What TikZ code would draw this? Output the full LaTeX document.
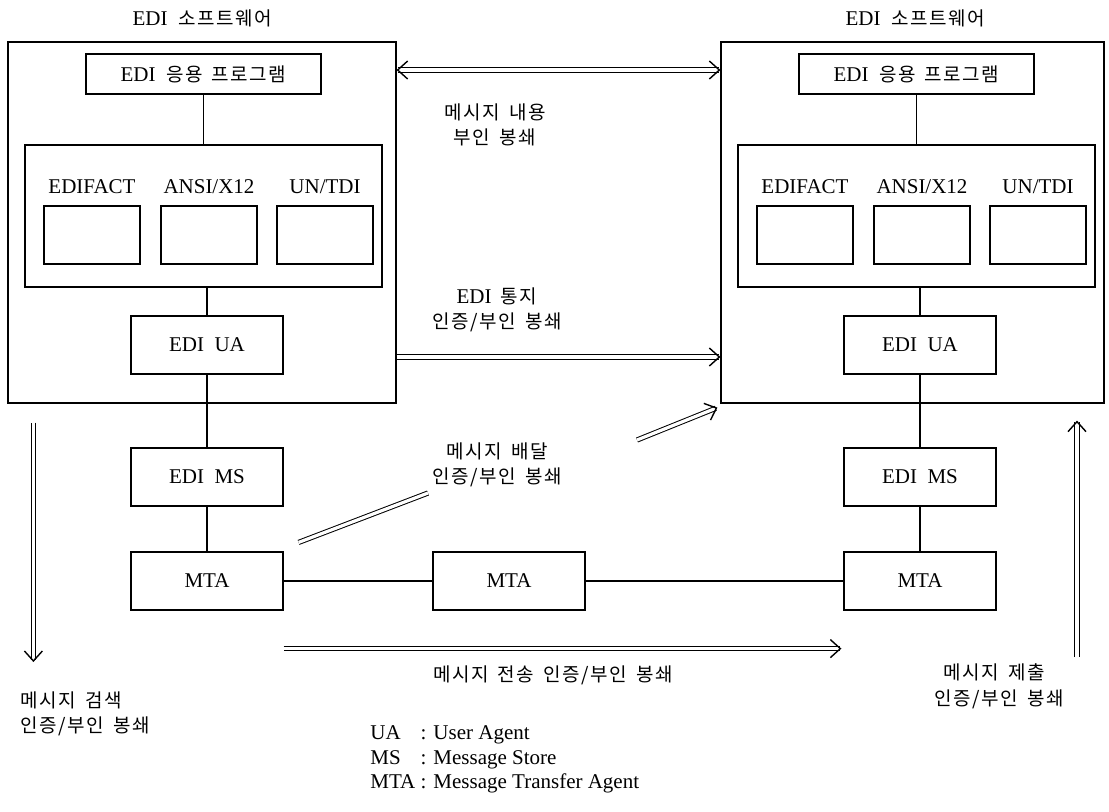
\documentclass[tikz,border=0pt]{standalone}
\usepackage{fontspec}
\setmainfont{Liberation Serif}
\newfontfamily\krfont{Noto Sans CJK KR}[LetterSpace=8, WordSpace=1.6]
\usetikzlibrary{calc,positioning,arrows.meta}

\newcommand{\kor}[1]{{\krfont\fontsize{9.5}{12.5}\selectfont #1}}

\tikzset{
    box/.style={draw, line width=0.6pt, inner sep=0pt},
    txt/.style={font=\fontsize{10.5}{12.5}\selectfont},
    krlab/.style={font=\krfont\fontsize{9.5}{12.8}\selectfont, align=center, inner sep=0pt},
    dline/.style={double, double distance=1.6pt, line width=0.5pt},
    tip/.tip={Straight Barb[length=5pt, width=9pt, line width=0.7pt]},
    darrow/.style={dline, -tip},
    link/.style={line width=0.6pt},
}

\begin{document}
\begin{tikzpicture}[x=0.5pt,y=-0.5pt]
    \useasboundingbox (0,0) rectangle (1109,811);

    % both EDI software sides
    \foreach \sd/\dx/\ow in {l/0/388, r/713/383}
    {
        \node[txt] (\sd title) at (202+\dx,18) {EDI\ \ \kor{소프트웨어}};
        \node[box, minimum width=\ow*0.5pt, minimum height=180.5pt] (\sd soft) at (202+\dx+\ow/2-194,222.5) {};
        \node[box, txt, minimum width=117.5pt, minimum height=20pt] (\sd app) at (203.5+\dx,74) {EDI\ \ \kor{응용 프로그램}};
        \node[box, minimum width=178.5pt, minimum height=71pt] (\sd std) at (203.5+\dx,216) {};
        \foreach \i/\x/\t in {1/92/EDIFACT, 2/209/{ANSI/X12}, 3/325/{UN/TDI}}
        {
            \node[txt] (\sd lab\i) at (\x+\dx,187) {\t};
            \node[box, minimum width=48pt, minimum height=29pt] (\sd form\i) at (\x+\dx,235) {};
        }
        \node[box, txt, minimum width=76pt, minimum height=29pt] (\sd ua) at (207+\dx,345) {EDI\ \ UA};
        \node[box, txt, minimum width=76pt, minimum height=29pt] (\sd ms) at (207+\dx,477) {EDI\ \ MS};
        \node[box, txt, minimum width=76pt, minimum height=29pt] (\sd mta) at (207+\dx,581) {MTA};

        % lines
        \draw[link] (\sd app.south) -- (\sd app.south |- \sd std.north);
        \draw[link] (\sd ua.north |- \sd std.south) -- (\sd ua.north);
        \draw[link] (\sd ua.south) -- (\sd ms.north);
        \draw[link] (\sd ms.south) -- (\sd mta.north);
    }

    % MTA chain
    \node[box, txt, minimum width=76pt, minimum height=29pt] (mmta) at (509,581) {MTA};
    \draw[link] (lmta.east) -- (mmta.west);
    \draw[link] (mmta.east) -- (rmta.west);

    % message content
    \coordinate (cnta) at ($(lsoft.east |- lapp)+(0,-4)$);
    \coordinate (cntb) at ($(rsoft.west |- lapp)+(0,-4)$);
    \draw[dline, tip-tip] (cnta) -- (cntb);
    \node[krlab] (content) at (495,125) {메시지 내용\\부인 봉쇄};

    % EDI notification
    \coordinate (notea) at ($(lsoft.east |- lua)+(0,12)$);
    \coordinate (noteb) at ($(rsoft.west |- lua)+(0,12)$);
    \draw[darrow] (notea) -- (noteb);
    \node[krlab] (notify) at (497,310) {{\rmfamily\fontsize{10.5}{12.5}\selectfont EDI} 통지\\인증/부인 봉쇄};

    % delivery
    \coordinate (dlva) at ($(lmta.north east)+(15,-9)$);
    \coordinate (dlvb) at (428,493);
    \coordinate (dlvc) at (637,440);
    \coordinate (dlvd) at ($(rsoft.south west)+(-3,4)$);
    \draw[dline] (dlva) -- (dlvb);
    \draw[darrow] (dlvc) -- (dlvd);
    \node[krlab] (deliver) at (497,465) {메시지 배달\\인증/부인 봉쇄};

    % transfer
    \coordinate (trfa) at ($(lmta.south east)+(0,38)$);
    \coordinate (trfb) at ($(rmta.south west)+(-2,38)$);
    \draw[darrow] (trfa) -- (trfb);
    \node[krlab] (transfer) at (553,675) {메시지 전송 인증/부인 봉쇄};

    % retrieval
    \coordinate (rtva) at ($(lsoft.south west)+(26,19)$);
    \coordinate (rtvb) at (rtva |- 0,662);
    \draw[darrow] (rtva) -- (rtvb);
    \node[krlab, align=left, anchor=west] (retrieve) at (20,714) {메시지 검색\\인증/부인 봉쇄};

    % submission
    \coordinate (sbma) at (1077,657);
    \coordinate (sbmb) at ($(sbma |- rsoft.south)+(0,17)$);
    \draw[darrow] (sbma) -- (sbmb);
    \node[krlab, align=left, anchor=west] (submit) at (934,686) {\ 메시지 제출\\인증/부인 봉쇄};

    % abbreviations
    \node[txt, anchor=north west, inner sep=0pt] (legend) at (370,722)
    {\renewcommand{\arraystretch}{0.98}\begin{tabular}{@{}l@{\ }l@{}}
        UA & : User Agent\\
        MS & : Message Store\\
        MTA & : Message Transfer Agent
    \end{tabular}};
\end{tikzpicture}
\end{document}
